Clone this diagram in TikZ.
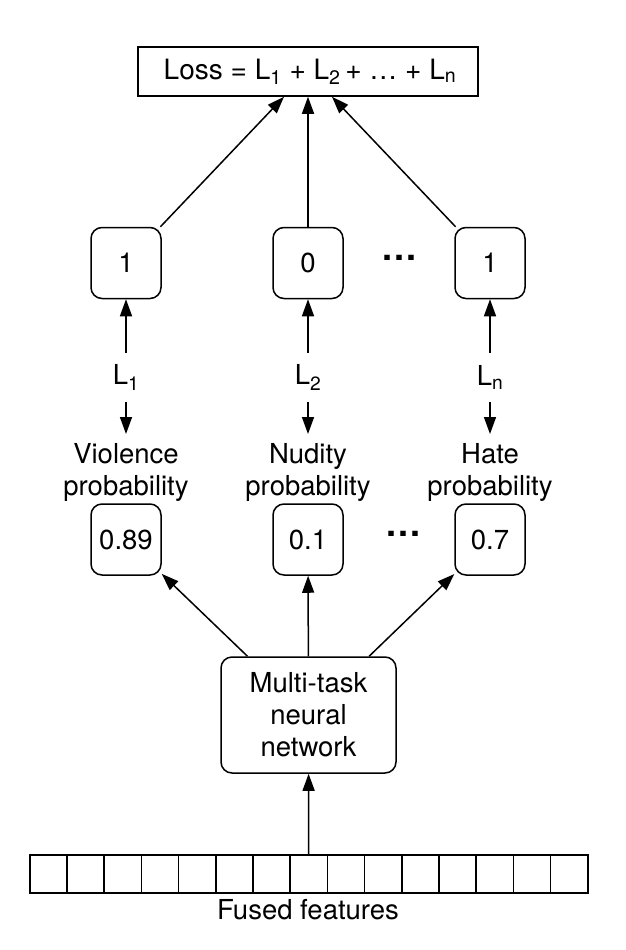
\documentclass[tikz,border=0pt]{standalone}
\usepackage{fontspec}
\setmainfont{TeX Gyre Heros}
\usetikzlibrary{arrows.meta}
\begin{document}
\begin{tikzpicture}[x=1pt,y=-1pt,
  every node/.style={font=\fontsize{27.5pt}{32pt}\selectfont},
  conn/.style={line width=1.5pt,-{Triangle[length=17pt,width=12pt]}},
  plainbox/.style={draw,line width=1.5pt,minimum width=340pt,minimum height=49pt,inner sep=0pt},
  valbox/.style={draw,line width=1.5pt,rounded corners=11pt,minimum width=70pt,minimum height=71pt,inner sep=0pt},
  netbox/.style={draw,line width=1.5pt,rounded corners=11pt,minimum width=175pt,minimum height=116pt,inner sep=0pt,align=center},
  losslabel/.style={inner sep=0pt,minimum height=49pt},
  catlabel/.style={inner sep=0pt,align=center,anchor=north},
  dotslabel/.style={inner sep=0pt,font=\fontsize{36pt}{36pt}\selectfont\bfseries},
  cell/.style={draw,line width=1.5pt,minimum width=37.2pt,minimum height=38pt,inner sep=0pt,anchor=west}
]
\useasboundingbox[fill=white] (0,0) rectangle (626,950);

% loss
\node[plainbox,font=\fontsize{28pt}{32pt}\selectfont] (loss) at (308,71.5) {\hspace{4pt}Loss = L\textsubscript{1} + L\textsubscript{2}\,+ \dots\ + L\textsubscript{n}};

% targets
\node[valbox] (t1) at (126,263) {1};
\node[valbox] (t2) at (308,263) {0};
\node[valbox] (tn) at (490,263) {1};
\node[dotslabel] (dt) at (399,258) {…};

% loss labels
\node[losslabel] (l1) at (126,377.5) {L\textsubscript{1}};
\node[losslabel] (l2) at (308,377.5) {L\textsubscript{2}};
\node[losslabel] (ln) at (490,377.5) {L\textsubscript{n}};

% category labels
\node[catlabel] (c1) at (126,434) {\rule{0pt}{29pt}Violence\\probability};
\node[catlabel] (c2) at (308,434) {\rule{0pt}{29pt}Nudity\\probability};
\node[catlabel] (cn) at (490,434) {\rule{0pt}{29pt}Hate\\probability};

% probabilities
\node[valbox] (p1) at (126,539.5) {0.89};
\node[valbox] (p2) at (308,539.5) {0.1};
\node[valbox] (pn) at (490,539.5) {0.7};
\node[dotslabel] (dp) at (403,534) {…};

% network
\node[netbox] (mt) at (308.5,715) {Multi-task\\neural\\network};

% fused features
\foreach \i in {1,...,15} {
  \node[cell] (f\i) at ({29+37.2*(\i-1)},874) {};
}
\node[inner sep=0pt,anchor=base] (ff) at (308,919) {Fused features};

% connectors
\draw[conn] (t1) -- (loss);
\draw[conn] (t2) -- (loss);
\draw[conn] (tn) -- (loss);

\draw[conn] (l1) -- (t1);
\draw[conn] (l2) -- (t2);
\draw[conn] (ln) -- (tn);
\draw[conn] (l1) -- (c1);
\draw[conn] (l2) -- (c2);
\draw[conn] (ln) -- (cn);

\draw[conn] (mt) -- (p1);
\draw[conn] (mt) -- (p2);
\draw[conn] (mt) -- (pn);

\draw[conn] (f8) -- (mt);
\end{tikzpicture}
\end{document}
